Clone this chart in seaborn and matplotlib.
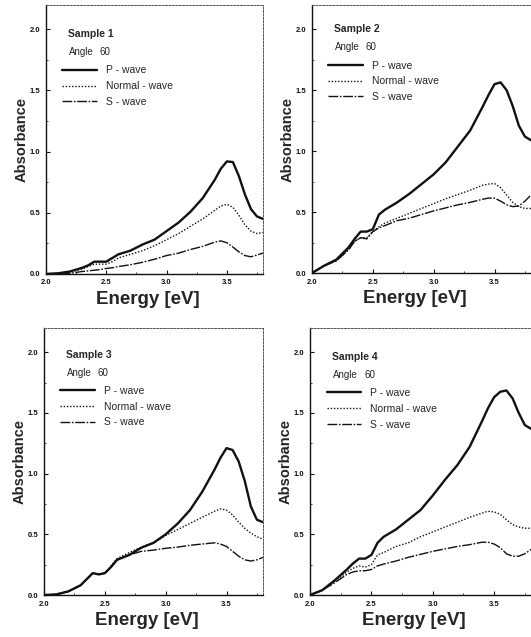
import numpy as np
import pandas as pd
import matplotlib
matplotlib.use('Agg')
import matplotlib.pyplot as plt
import seaborn as sns
from matplotlib.ticker import MultipleLocator

sns.set_theme(style='ticks')
plt.rcParams['font.family'] = ['Liberation Sans', 'DejaVu Sans']

# energy grid shared by all curves [eV]
energy = [2.0, 2.1, 2.2, 2.3, 2.35, 2.4, 2.45, 2.5, 2.55, 2.6, 2.7, 2.8, 2.9,
          3.0, 3.1, 3.2, 3.3, 3.4, 3.45, 3.5, 3.55, 3.6, 3.65, 3.7, 3.75, 3.8]

samples = ['Sample 1', 'Sample 2', 'Sample 3', 'Sample 4']
waves = ['P - wave', 'Normal - wave', 'S - wave']
angle = '60'

# Sample 1
s1_p = [0.0, 0.005, 0.02, 0.05, 0.07, 0.10, 0.10, 0.10, 0.13, 0.16, 0.19, 0.24, 0.28,
        0.35, 0.42, 0.51, 0.62, 0.77, 0.86, 0.92, 0.915, 0.80, 0.65, 0.53, 0.47, 0.45]
s1_n = [0.0, 0.005, 0.015, 0.04, 0.06, 0.08, 0.08, 0.08, 0.10, 0.13, 0.16, 0.19, 0.23,
        0.28, 0.33, 0.39, 0.45, 0.52, 0.555, 0.57, 0.545, 0.48, 0.40, 0.35, 0.33, 0.34]
s1_s = [0.0, 0.0, 0.005, 0.02, 0.025, 0.03, 0.035, 0.045, 0.05, 0.06, 0.075, 0.095, 0.12,
        0.15, 0.17, 0.20, 0.225, 0.26, 0.27, 0.255, 0.22, 0.18, 0.15, 0.14, 0.155, 0.17]

# Sample 2
s2_p = [0.0, 0.06, 0.11, 0.21, 0.28, 0.34, 0.34, 0.36, 0.48, 0.52, 0.58, 0.65, 0.73,
        0.81, 0.91, 1.04, 1.17, 1.36, 1.46, 1.55, 1.565, 1.50, 1.37, 1.21, 1.12, 1.09]
s2_n = [0.0, 0.06, 0.10, 0.19, 0.26, 0.29, 0.29, 0.34, 0.38, 0.41, 0.45, 0.49, 0.53,
        0.57, 0.61, 0.645, 0.68, 0.72, 0.73, 0.735, 0.70, 0.64, 0.58, 0.545, 0.53, 0.53]
s2_s = [0.0, 0.06, 0.10, 0.19, 0.26, 0.29, 0.28, 0.34, 0.37, 0.39, 0.43, 0.45, 0.48,
        0.51, 0.535, 0.56, 0.58, 0.605, 0.615, 0.615, 0.59, 0.56, 0.545, 0.55, 0.59, 0.64]

# Sample 3
s3_p = [0.0, 0.005, 0.03, 0.08, 0.13, 0.18, 0.17, 0.18, 0.23, 0.29, 0.33, 0.39, 0.43,
        0.50, 0.59, 0.70, 0.85, 1.03, 1.13, 1.21, 1.195, 1.10, 0.94, 0.73, 0.62, 0.60]
s3_n = [0.0, 0.005, 0.03, 0.08, 0.13, 0.18, 0.17, 0.18, 0.24, 0.30, 0.35, 0.395, 0.43,
        0.49, 0.54, 0.59, 0.64, 0.69, 0.71, 0.70, 0.66, 0.60, 0.55, 0.51, 0.48, 0.46]
s3_s = [0.0, 0.005, 0.03, 0.08, 0.13, 0.18, 0.17, 0.18, 0.23, 0.29, 0.33, 0.36, 0.37,
        0.385, 0.395, 0.41, 0.42, 0.43, 0.42, 0.40, 0.36, 0.32, 0.29, 0.28, 0.29, 0.31]

# Sample 4
s4_p = [0.0, 0.04, 0.12, 0.21, 0.26, 0.30, 0.30, 0.33, 0.43, 0.48, 0.54, 0.62, 0.70,
        0.82, 0.95, 1.07, 1.22, 1.43, 1.54, 1.63, 1.675, 1.685, 1.62, 1.50, 1.40, 1.37]
s4_n = [0.0, 0.04, 0.11, 0.19, 0.22, 0.24, 0.23, 0.25, 0.33, 0.35, 0.40, 0.43, 0.48,
        0.52, 0.56, 0.60, 0.64, 0.675, 0.69, 0.685, 0.665, 0.62, 0.58, 0.56, 0.55, 0.55]
s4_s = [0.0, 0.04, 0.10, 0.17, 0.19, 0.20, 0.20, 0.21, 0.24, 0.255, 0.28, 0.31, 0.335,
        0.36, 0.38, 0.40, 0.415, 0.435, 0.435, 0.42, 0.39, 0.34, 0.32, 0.32, 0.34, 0.375]

data = [(s1_p, s1_n, s1_s), (s2_p, s2_n, s2_s), (s3_p, s3_n, s3_s), (s4_p, s4_n, s4_s)]

styles = [dict(lw=1.7, ls='-'),
          dict(lw=1.0, ls=(0, (1, 1.3))),
          dict(lw=1.0, ls=(0, (7, 1.2, 1.2, 1.2)))]

# axes rectangles (figure fractions)
rects = [[0.0866, 0.570, 0.4087, 0.4223],
         [0.5876, 0.5714, 0.4124, 0.4207],
         [0.0829, 0.0659, 0.4124, 0.4192],
         [0.5838, 0.0659, 0.4162, 0.4192]]
text_shift = [0.0, 0.018, 0.008, 0.0]

fig = plt.figure(figsize=(5.31, 6.37), dpi=100)

for i in range(4):
    ax = fig.add_axes(rects[i])
    for j in range(3):
        df = pd.DataFrame({'Energy': energy, 'Absorbance': data[i][j]})
        sns.lineplot(data=df, x='Energy', y='Absorbance', ax=ax, color='#111111',
                     linewidth=styles[j]['lw'], linestyle=styles[j]['ls'],
                     label=waves[j], estimator=None, sort=False)

    ax.set_xlim(2.0, 3.8)
    ax.set_ylim(0.0, 2.2)
    ax.xaxis.set_major_locator(MultipleLocator(0.5))
    ax.yaxis.set_major_locator(MultipleLocator(0.5))
    ax.xaxis.set_minor_locator(MultipleLocator(0.25))
    ax.yaxis.set_minor_locator(MultipleLocator(0.25))
    ax.set_xticks([2.0, 2.5, 3.0, 3.5])
    ax.set_xticklabels(['2.0', '2.5', '3.0', '3.5'])
    ax.set_yticks([0.0, 0.5, 1.0, 1.5, 2.0])
    ax.set_yticklabels(['0.0', '0.5', '1.0', '1.5', '2.0'])
    ax.tick_params(which='major', direction='in', length=3, width=0.8,
                   labelsize=5.5, pad=4, colors='#111111')
    ax.tick_params(which='minor', direction='in', length=1.5, width=0.6)
    for lab in ax.get_xticklabels() + ax.get_yticklabels():
        lab.set_fontweight('bold')

    for side in ['left', 'bottom']:
        ax.spines[side].set_color('#111111')
        ax.spines[side].set_linewidth(1.0)
    for side in ['top', 'right']:
        ax.spines[side].set_color('#555555')
        ax.spines[side].set_linewidth(0.7)
        ax.spines[side].set_linestyle((0, (2, 1.5)))

    ax.set_xlabel('Energy [eV]', fontsize=13.5, fontweight='bold')
    ax.xaxis.set_label_coords(0.47, -0.062)
    ax.set_ylabel('Absorbance', fontsize=10.5, fontweight='bold', labelpad=1)

    dy = text_shift[i]
    ax.text(0.10, 0.892 + dy, samples[i], transform=ax.transAxes, fontsize=7.5,
            fontweight='bold', va='center', ha='left')
    ax.text(0.105, 0.825 + dy, 'Angle', transform=ax.transAxes, fontsize=7,
            va='center', ha='left')
    ax.text(0.245, 0.825 + dy, angle, transform=ax.transAxes, fontsize=7,
            va='center', ha='left')
    ax.legend(loc='upper left', bbox_to_anchor=(0.075, 0.775 + dy), frameon=False,
              fontsize=7.5, handlelength=3.3, handletextpad=0.9, labelspacing=0.55,
              borderpad=0, borderaxespad=0)

fig.savefig('out.png', dpi=100)
